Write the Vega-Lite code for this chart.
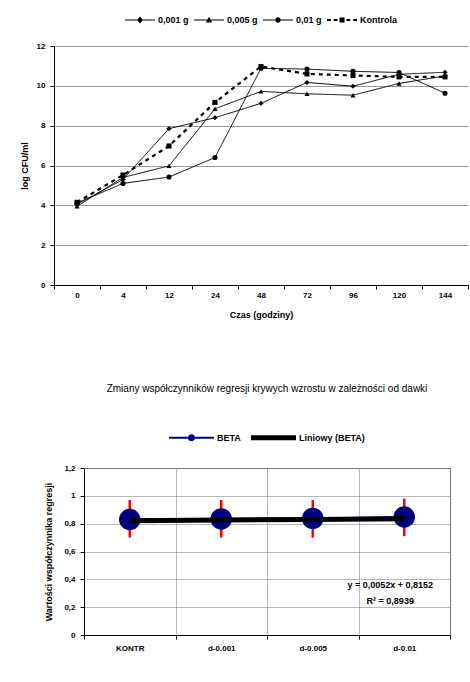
{
  "$schema": "https://vega.github.io/schema/vega-lite/v6.json",
  "padding": {"left": 20, "top": 5, "right": 0, "bottom": 0},
  "background": "white",
  "columns": 1,
  "align": "none",
  "spacing": 64,
  "resolve": {
    "scale": {"x": "independent", "y": "independent", "color": "independent"},
    "legend": {"color": "independent"}
  },
  "config": {
    "font": "Liberation Sans",
    "legend": {"layout": {"top": {"anchor": "middle"}}}
  },
  "concat": [
    {
      "width": 414,
      "height": 239,
      "view": {"stroke": null},
      "data": {"values": [
        {"czas": "0", "seria": "0,001 g", "v": 4.05},
        {"czas": "4", "seria": "0,001 g", "v": 5.3},
        {"czas": "12", "seria": "0,001 g", "v": 7.85},
        {"czas": "24", "seria": "0,001 g", "v": 8.4},
        {"czas": "48", "seria": "0,001 g", "v": 9.12},
        {"czas": "72", "seria": "0,001 g", "v": 10.17},
        {"czas": "96", "seria": "0,001 g", "v": 9.98},
        {"czas": "120", "seria": "0,001 g", "v": 10.58},
        {"czas": "144", "seria": "0,001 g", "v": 10.68},
        {"czas": "0", "seria": "0,005 g", "v": 3.95},
        {"czas": "4", "seria": "0,005 g", "v": 5.4},
        {"czas": "12", "seria": "0,005 g", "v": 5.98},
        {"czas": "24", "seria": "0,005 g", "v": 8.85},
        {"czas": "48", "seria": "0,005 g", "v": 9.72},
        {"czas": "72", "seria": "0,005 g", "v": 9.6},
        {"czas": "96", "seria": "0,005 g", "v": 9.53},
        {"czas": "120", "seria": "0,005 g", "v": 10.12},
        {"czas": "144", "seria": "0,005 g", "v": 10.5},
        {"czas": "0", "seria": "0,01 g", "v": 4.12},
        {"czas": "4", "seria": "0,01 g", "v": 5.1},
        {"czas": "12", "seria": "0,01 g", "v": 5.42},
        {"czas": "24", "seria": "0,01 g", "v": 6.4},
        {"czas": "48", "seria": "0,01 g", "v": 10.88},
        {"czas": "72", "seria": "0,01 g", "v": 10.84},
        {"czas": "96", "seria": "0,01 g", "v": 10.73},
        {"czas": "120", "seria": "0,01 g", "v": 10.67},
        {"czas": "144", "seria": "0,01 g", "v": 9.63},
        {"czas": "0", "seria": "Kontrola", "v": 4.15},
        {"czas": "4", "seria": "Kontrola", "v": 5.52},
        {"czas": "12", "seria": "Kontrola", "v": 6.98},
        {"czas": "24", "seria": "Kontrola", "v": 9.17},
        {"czas": "48", "seria": "Kontrola", "v": 10.97},
        {"czas": "72", "seria": "Kontrola", "v": 10.6},
        {"czas": "96", "seria": "Kontrola", "v": 10.52},
        {"czas": "120", "seria": "Kontrola", "v": 10.45},
        {"czas": "144", "seria": "Kontrola", "v": 10.45}
      ]},
      "encoding": {
        "x": {
          "field": "czas", "type": "ordinal",
          "sort": ["0", "4", "12", "24", "48", "72", "96", "120", "144"],
          "scale": {"type": "band", "paddingInner": 0, "paddingOuter": 0},
          "axis": {
            "title": "Czas (godziny)", "labelAngle": 0, "tickBand": "extent",
            "grid": false, "domainColor": "black", "tickColor": "black", "tickSize": 4,
            "labelFontWeight": "bold", "labelFontSize": 8, "labelColor": "black", "labelPadding": 2,
            "titleFontWeight": "bold", "titleFontSize": 9, "titleColor": "black", "titlePadding": 11
          }
        },
        "y": {
          "field": "v", "type": "quantitative",
          "scale": {"domain": [0, 12], "nice": false},
          "axis": {
            "title": "log CFU/ml", "values": [0, 2, 4, 6, 8, 10, 12], "tickCount": 7, "labelOverlap": false,
            "grid": true, "gridColor": "#9a9a9a", "gridWidth": 1,
            "domainColor": "black", "tickColor": "black", "tickSize": 4,
            "labelFontWeight": "bold", "labelFontSize": 8, "labelColor": "black", "labelPadding": 5,
            "titleFontWeight": "bold", "titleFontSize": 9, "titleColor": "black", "titlePadding": 7
          }
        }
      },
      "layer": [
        {
          "mark": {"type": "line"},
          "encoding": {
            "color": {
              "field": "seria", "type": "nominal",
              "scale": {"domain": ["0,001 g", "0,005 g", "0,01 g", "Kontrola"], "range": ["black", "black", "black", "black"]},
              "legend": {
                "orient": "top", "direction": "horizontal", "title": null, "offset": 21,
                "labelFontWeight": "bold", "labelFontSize": 9, "labelColor": "black", "labelOffset": 3,
                "symbolSize": 900, "columnPadding": 5,
                "encode": {
                  "symbols": {
                    "update": {
                      "shape": {"signal": "datum.value === '0,001 g' ? 'M-1,-0.035L1,-0.035L1,0.035L-1,0.035Z M0,-0.24L0.19,0L0,0.24L-0.19,0Z' : datum.value === '0,005 g' ? 'M-1,-0.035L1,-0.035L1,0.035L-1,0.035Z M0,-0.22L0.21,0.16L-0.21,0.16Z' : datum.value === '0,01 g' ? 'M-1,-0.035L-0.18,-0.035L-0.18,0.035L-1,0.035Z M0.18,-0.035L1,-0.035L1,0.035L0.18,0.035Z M-0.18,0A0.18,0.18 0 1,1 0.18,0A0.18,0.18 0 1,1 -0.18,0Z' : 'M-1,-0.067L-0.75,-0.067L-0.75,0.067L-1,0.067Z M-0.55,-0.067L-0.3,-0.067L-0.3,0.067L-0.55,0.067Z M0.3,-0.067L0.55,-0.067L0.55,0.067L0.3,0.067Z M0.75,-0.067L1,-0.067L1,0.067L0.75,0.067Z M-0.17,-0.17L0.17,-0.17L0.17,0.17L-0.17,0.17Z'"},
                      "size": {"value": 900},
                      "fill": {"value": "black"},
                      "stroke": {"value": null},
                      "strokeWidth": {"value": 0},
                      "opacity": {"value": 1},
                      "fillOpacity": {"value": 1}
                    }
                  }
                }
              }
            },
            "strokeDash": {"condition": {"test": "datum.seria === 'Kontrola'", "value": [4, 4]}, "value": [1, 0]},
            "strokeWidth": {"condition": {"test": "datum.seria === 'Kontrola'", "value": 2.2}, "value": 1}
          }
        },
        {
          "mark": {"type": "point", "filled": true, "color": "black", "opacity": 1, "size": 26},
          "encoding": {
            "shape": {
              "condition": [
                {"test": "datum.seria === '0,001 g'", "value": "diamond"},
                {"test": "datum.seria === '0,005 g'", "value": "triangle-up"},
                {"test": "datum.seria === '0,01 g'", "value": "circle"}
              ],
              "value": "square"
            }
          }
        }
      ]
    },
    {
      "spacing": 10,
      "bounds": "flush",
      "resolve": {
        "scale": {"x": "independent", "y": "independent", "color": "independent"},
        "legend": {"color": "independent"}
      },
      "hconcat": [
        {
          "width": 20,
          "height": 10,
          "view": {"stroke": null},
          "data": {"values": []},
          "mark": "point",
          "encoding": {}
        },
        {
          "width": 366,
          "height": 167,
          "view": {"stroke": "#808080"},
          "title": {
            "text": "Zmiany współczynników regresji krywych wzrostu w zależności od dawki",
            "fontSize": 10, "fontWeight": "normal", "color": "black", "offset": 21, "anchor": "middle"
          },
          "data": {"values": [
            {"kat": "KONTR", "seria": "BETA", "v": 0.83, "lo": 0.70, "hi": 0.97},
            {"kat": "d-0.001", "seria": "BETA", "v": 0.834, "lo": 0.70, "hi": 0.97},
            {"kat": "d-0.005", "seria": "BETA", "v": 0.838, "lo": 0.70, "hi": 0.97},
            {"kat": "d-0.01", "seria": "BETA", "v": 0.848, "lo": 0.71, "hi": 0.98},
            {"kat": "KONTR", "seria": "Liniowy (BETA)", "v": 0.8204},
            {"kat": "d-0.001", "seria": "Liniowy (BETA)", "v": 0.8256},
            {"kat": "d-0.005", "seria": "Liniowy (BETA)", "v": 0.8308},
            {"kat": "d-0.01", "seria": "Liniowy (BETA)", "v": 0.836}
          ]},
          "encoding": {
            "x": {
              "field": "kat", "type": "ordinal",
              "sort": ["KONTR", "d-0.001", "d-0.005", "d-0.01"],
              "scale": {"type": "band", "paddingInner": 0, "paddingOuter": 0},
              "axis": {
                "title": null, "labelAngle": 0, "tickBand": "extent",
                "grid": true, "gridColor": "#707070", "gridDash": [1, 1], "gridWidth": 1,
                "domainColor": "black", "tickColor": "black", "tickSize": 4,
                "labelFontWeight": "bold", "labelFontSize": 8, "labelColor": "black", "labelPadding": 5
              }
            }
          },
          "layer": [
            {
              "transform": [{"filter": "datum.seria === 'BETA'"}],
              "mark": {"type": "rule", "color": "red", "strokeWidth": 2.5},
              "encoding": {
                "y": {
                  "field": "lo", "type": "quantitative",
                  "scale": {"domain": [0, 1.2], "nice": false},
                  "axis": {
                    "title": "Wartości współczynnika regresji", "values": [0, 0.2, 0.4, 0.6, 0.8, 1, 1.2],
                    "tickCount": 7, "labelOverlap": false,
                    "labelExpr": "replace(format(datum.value, '.1~f'), '.', ',')",
                    "grid": true, "gridColor": "#707070", "gridDash": [1, 1], "gridWidth": 1,
                    "domainColor": "black", "tickColor": "black", "tickSize": 4,
                    "labelFontWeight": "bold", "labelFontSize": 8, "labelColor": "black", "labelPadding": 5,
                    "titleFontWeight": "bold", "titleFontSize": 9, "titleColor": "black", "titlePadding": 10
                  }
                },
                "y2": {"field": "hi"}
              }
            },
            {
              "transform": [{"filter": "datum.seria === 'BETA'"}],
              "mark": {"type": "line", "strokeWidth": 2},
              "encoding": {
                "y": {"field": "v", "type": "quantitative"},
                "color": {
                  "field": "seria", "type": "nominal",
                  "scale": {"domain": ["BETA", "Liniowy (BETA)"], "range": ["#000080", "black"]},
                  "legend": {
                    "orient": "top", "direction": "horizontal", "title": null, "offset": 25,
                    "labelFontWeight": "bold", "labelFontSize": 9, "labelColor": "black", "labelOffset": 3,
                    "symbolSize": 2025, "columnPadding": 10,
                    "encode": {
                      "symbols": {
                        "update": {
                          "shape": {"signal": "datum.value === 'BETA' ? 'M-1,-0.045L-0.16,-0.045L-0.16,0.045L-1,0.045Z M0.16,-0.045L1,-0.045L1,0.045L0.16,0.045Z M-0.16,0A0.16,0.16 0 1,1 0.16,0A0.16,0.16 0 1,1 -0.16,0Z' : 'M-1,-0.11L1,-0.11L1,0.11L-1,0.11Z'"},
                          "size": {"value": 2025},
                          "fill": {"signal": "datum.value === 'BETA' ? '#000080' : 'black'"},
                          "stroke": {"value": null},
                          "strokeWidth": {"value": 0},
                          "opacity": {"value": 1},
                          "fillOpacity": {"value": 1}
                        }
                      }
                    }
                  }
                }
              }
            },
            {
              "transform": [{"filter": "datum.seria === 'BETA'"}],
              "mark": {"type": "point", "filled": true, "shape": "circle", "color": "#000080", "opacity": 1, "size": 460},
              "encoding": {
                "y": {"field": "v", "type": "quantitative"}
              }
            },
            {
              "transform": [{"filter": "datum.seria === 'Liniowy (BETA)'"}],
              "mark": {"type": "line", "strokeWidth": 5},
              "encoding": {
                "y": {"field": "v", "type": "quantitative"},
                "color": {"field": "seria", "type": "nominal"}
              }
            },
            {
              "data": {"values": [
                {"kat": "d-0.01", "v": 0.362, "t": "y = 0,0052x + 0,8152"},
                {"kat": "d-0.01", "v": 0.247, "t": "R² = 0,8939"}
              ]},
              "mark": {"type": "text", "fontWeight": "bold", "fontSize": 9, "color": "black", "dx": -14},
              "encoding": {
                "y": {"field": "v", "type": "quantitative"},
                "text": {"field": "t"}
              }
            }
          ]
        }
      ]
    }
  ]
}
